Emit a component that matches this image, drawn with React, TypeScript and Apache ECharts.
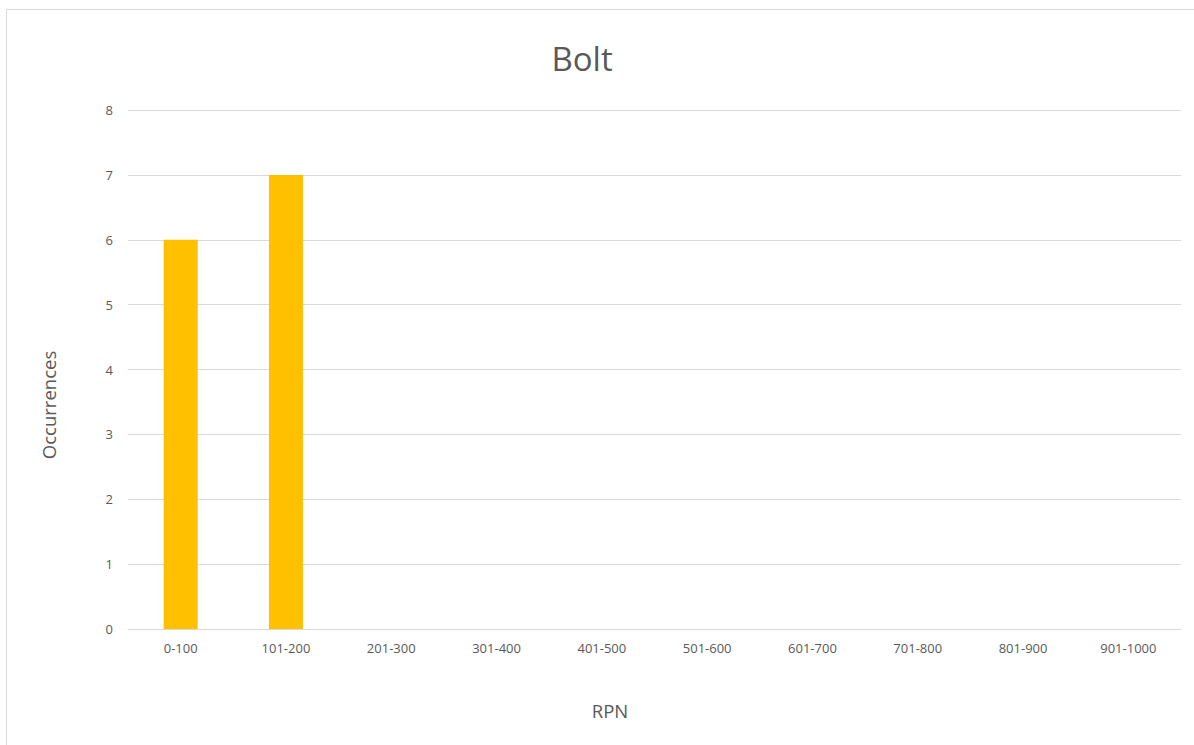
import React, { useEffect, useRef } from "react";
import * as echarts from "echarts";

const rpnBands: string[] = [
  "0-100", "101-200", "201-300", "301-400", "401-500",
  "501-600", "601-700", "701-800", "801-900", "901-1000",
];
const occurrences: number[] = [6, 7, 0, 0, 0, 0, 0, 0, 0, 0];

const FONT = "'Open Sans', 'Noto Sans', sans-serif";
const TEXT = "#595959";
const LINE = "#d9d9d9";

export default function App() {
  const ref = useRef<HTMLDivElement>(null);

  useEffect(() => {
    if (!ref.current) return;
    const chart = echarts.init(ref.current, undefined, { renderer: "svg" });
    chart.setOption({
      animation: false,
      backgroundColor: "#ffffff",
      graphic: [
        {
          type: "rect",
          shape: { x: 6.5, y: 9.5, width: 1300, height: 900 },
          style: { fill: "none", stroke: LINE, lineWidth: 1 },
          silent: true,
        },
        {
          type: "text",
          x: 582,
          y: 58,
          style: {
            text: "Bolt",
            fontFamily: FONT,
            fontSize: 33,
            fill: TEXT,
            align: "center",
            verticalAlign: "middle",
          },
        },
        {
          type: "text",
          x: 610,
          y: 710,
          style: {
            text: "RPN",
            fontFamily: FONT,
            fontSize: 18.5,
            fill: TEXT,
            align: "center",
            verticalAlign: "middle",
          },
        },
        {
          type: "text",
          x: 48,
          y: 405,
          rotation: Math.PI / 2,
          style: {
            text: "Occurrences",
            fontFamily: FONT,
            fontSize: 18.5,
            fill: TEXT,
            align: "center",
            verticalAlign: "middle",
          },
        },
      ],
      grid: { left: 128, right: 13, top: 110, bottom: 116 },
      xAxis: {
        type: "category",
        data: rpnBands,
        axisLine: { lineStyle: { color: LINE, width: 1 } },
        axisTick: { show: false },
        axisLabel: { fontFamily: FONT, fontSize: 13, color: TEXT, margin: 12 },
      },
      yAxis: {
        type: "value",
        min: 0,
        max: 8,
        interval: 1,
        axisLine: { show: false },
        axisTick: { show: false },
        axisLabel: { fontFamily: FONT, fontSize: 13, color: TEXT, margin: 15 },
        splitLine: { lineStyle: { color: LINE, width: 1 } },
      },
      series: [
        {
          type: "bar",
          data: occurrences,
          barWidth: 34,
          itemStyle: { color: "#FFC000" },
        },
      ],
    });
    return () => chart.dispose();
  }, []);

  return (
    <div
      ref={ref}
      style={{ position: "fixed", left: 0, top: 0, width: 1194, height: 745 }}
    />
  );
}
